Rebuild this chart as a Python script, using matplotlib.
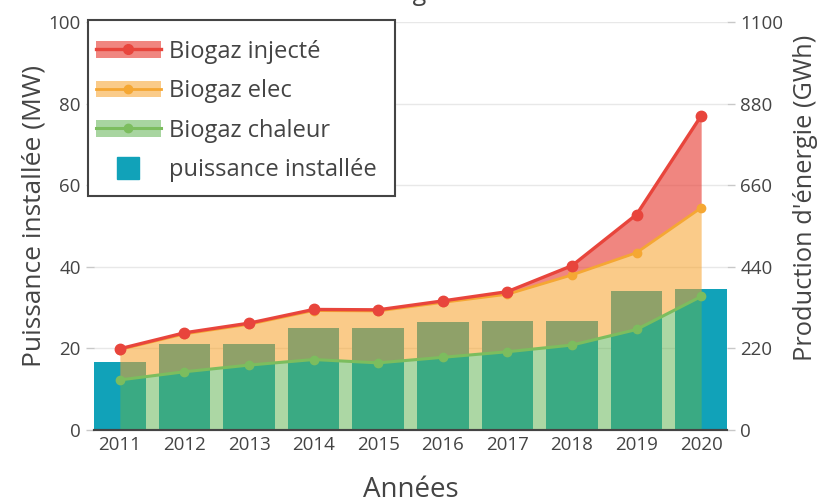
import matplotlib
matplotlib.use("Agg")
import matplotlib.pyplot as plt
from matplotlib.lines import Line2D
from matplotlib.patches import Patch, Rectangle

plt.rcParams['font.family'] = ['Open Sans', 'DejaVu Sans']

annees = [2011, 2012, 2013, 2014, 2015, 2016, 2017, 2018, 2019, 2020]
puissance_mw = [16.7, 21.2, 21.2, 24.9, 24.9, 26.5, 26.8, 26.8, 34.1, 34.5]
biogaz_chaleur = [135, 157, 175, 190, 181, 196, 211, 229, 271, 360]
biogaz_elec = [217, 259, 285, 322, 321, 344, 366, 418, 478, 599]
biogaz_injecte = [219, 262, 288, 325, 324, 348, 373, 443, 581, 847]

TXT = '#444444'
C_BAR = '#11a2b9'
C_RED, C_ORANGE, C_GREEN = '#e8453c', '#f7a128', '#61b352'
W, H = 820, 503

fig = plt.figure(figsize=(W / 100, H / 100), dpi=100)
ax = fig.add_axes([94 / W, 73 / H, 633 / W, 408 / H])
ax2 = ax.twinx()

# installed power bars (left axis)
ax.bar(annees, puissance_mw, width=0.8, color=C_BAR, zorder=2)
ax.set_ylim(0, 100)
ax.set_xlim(2010.6, 2020.4)
ax.set_yticks([0, 20, 40, 60, 80, 100])
ax.grid(axis='y', color='#e8e8e8', linewidth=1, zorder=0)
ax.set_axisbelow(True)

# energy production areas (right axis)
ax2.fill_between(annees, 0, biogaz_chaleur, color=C_GREEN, alpha=0.52, linewidth=0)
ax2.fill_between(annees, biogaz_chaleur, biogaz_elec, color=C_ORANGE, alpha=0.55, linewidth=0)
ax2.fill_between(annees, biogaz_elec, biogaz_injecte, color=C_RED, alpha=0.65, linewidth=0)
ax2.plot(annees, biogaz_chaleur, color='#7cbd5e', lw=2.2, marker='o', ms=6)
ax2.plot(annees, biogaz_elec, color='#f5a733', lw=2, marker='o', ms=6)
ax2.plot(annees, biogaz_injecte, color=C_RED, lw=2.4, marker='o', ms=7.5)
ax2.set_ylim(0, 1100)
ax2.set_yticks([0, 220, 440, 660, 880, 1100])

for a in (ax, ax2):
    for s in ('top', 'left', 'right'):
        a.spines[s].set_visible(False)
    a.spines['bottom'].set_color(TXT)
    a.spines['bottom'].set_linewidth(1.5)
    a.tick_params(axis='y', colors='#c8c8c8', labelcolor=TXT, labelsize=13.5, length=6, width=1)
ax.tick_params(axis='x', length=0, labelcolor=TXT, labelsize=13.5, pad=4)
ax.set_xticks(annees)

ax.set_xlabel('Années', fontsize=20, color=TXT, labelpad=16)
ax.set_ylabel('Puissance installée (MW)', fontsize=19, color=TXT)
ax2.set_ylabel("Production d'énergie (GWh)", fontsize=18.3, color=TXT)
ax.yaxis.set_label_coords((47 - 94) / 633, (430 - 216) / 408)
ax2.yaxis.set_label_coords((793 - 94) / 633, (430 - 198) / 408)

fig.text(0.505, 1.0, 'Biogaz', ha='center', va='baseline', fontsize=18, color=TXT)

# legend: entries without frame, box drawn separately
handles = [
    (Patch(color=C_RED, alpha=0.65, lw=0), Line2D([], [], color=C_RED, lw=2.4, marker='o', ms=7)),
    (Patch(color=C_ORANGE, alpha=0.55, lw=0), Line2D([], [], color='#f5a733', lw=2, marker='o', ms=6)),
    (Patch(color=C_GREEN, alpha=0.55, lw=0), Line2D([], [], color='#7cbd5e', lw=2.2, marker='o', ms=6)),
    Line2D([], [], color=C_BAR, marker='s', ms=16, lw=0),
]
labels = ['Biogaz injecté', 'Biogaz elec', 'Biogaz chaleur', 'puissance installée']
box = Rectangle((88 / W, 1 - 196 / H), (395 - 88) / W, 176 / H, transform=fig.transFigure,
                facecolor='white', edgecolor=TXT, linewidth=1.5, zorder=5)
ax2.add_artist(box)
box.set_clip_on(False)
leg = ax2.legend(handles, labels, loc='upper left', bbox_to_anchor=(96 / W, 1 - 39.5 / H),
                 bbox_transform=fig.transFigure, borderaxespad=0, fontsize=17, frameon=False,
                 handlelength=2.75, handletextpad=0.35, labelspacing=0.66, borderpad=0,
                 labelcolor=TXT)
leg.set_zorder(6)

fig.savefig('out.png', dpi=100)
